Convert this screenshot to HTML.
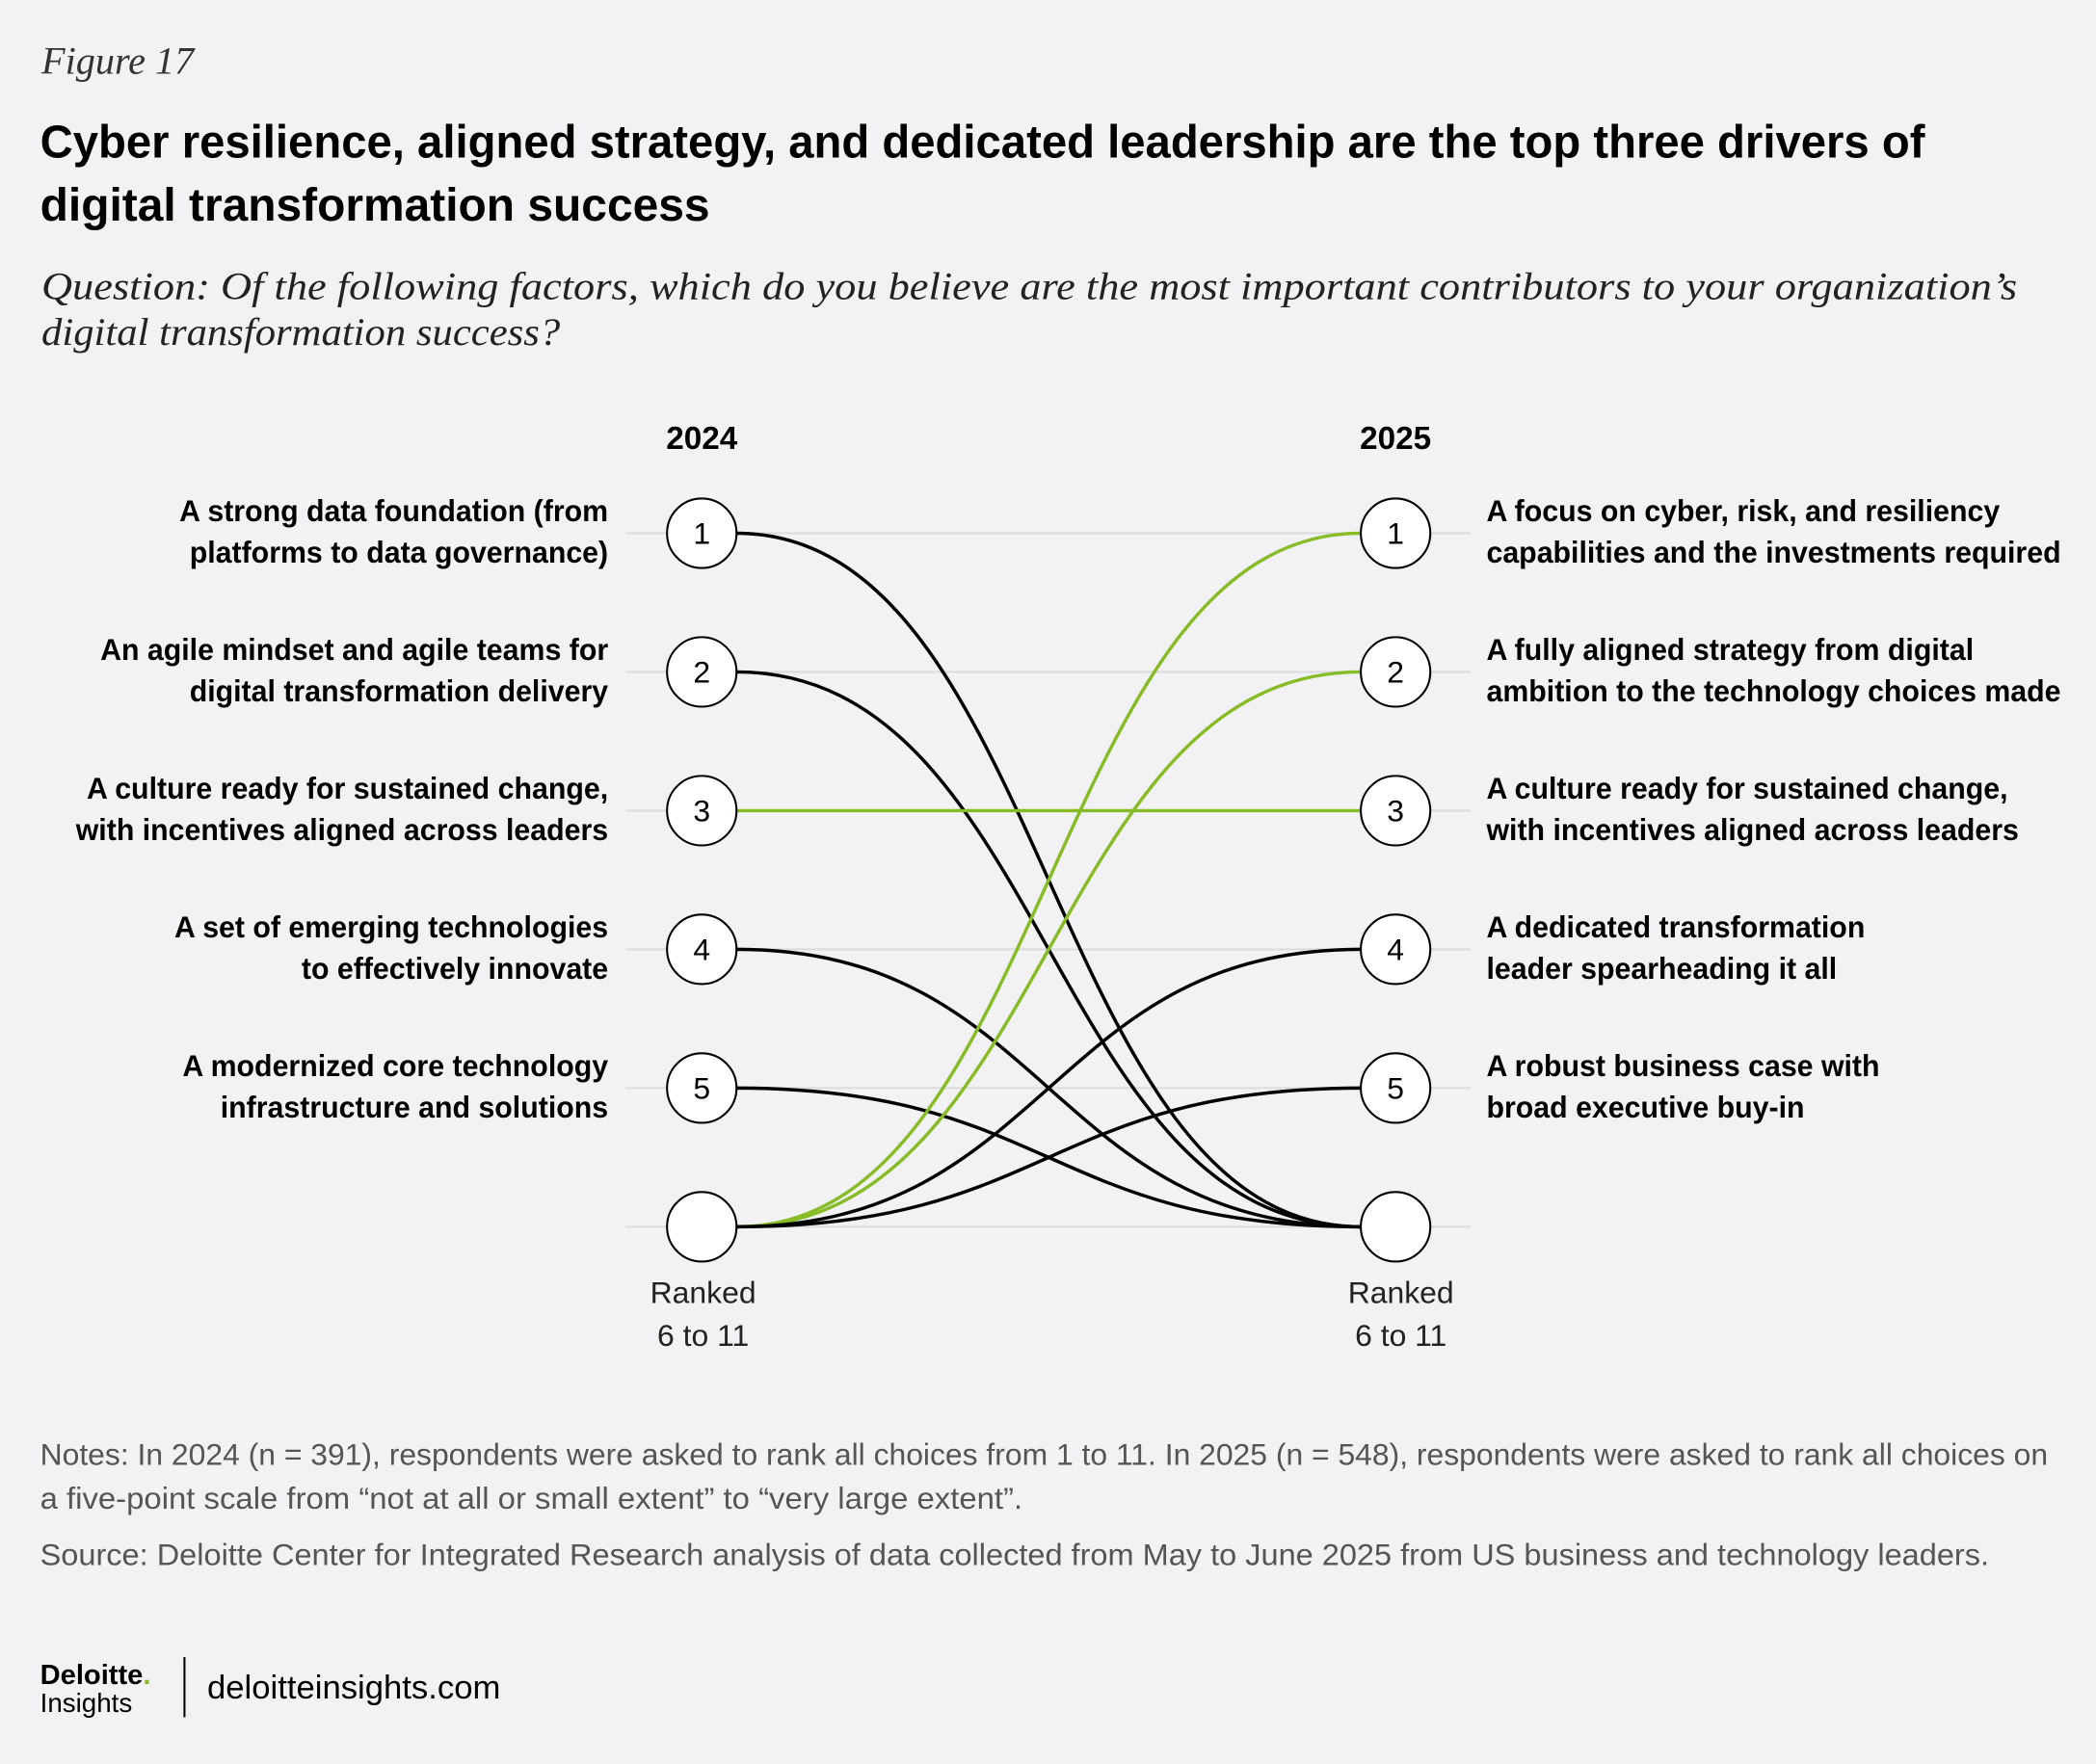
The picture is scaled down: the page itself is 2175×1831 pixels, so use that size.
<!DOCTYPE html>
<html><head><meta charset="utf-8"><style>
html,body{margin:0;padding:0;background:#f2f2f4;}
svg{display:block;}
.t{font-family:"Liberation Sans",sans-serif;}
.s{font-family:"Liberation Serif",serif;font-style:italic;}
</style></head><body>
<svg id="chart" width="2175" height="1831" viewBox="0 0 1568 1320" xmlns="http://www.w3.org/2000/svg">
<rect width="1568" height="1320" fill="#f2f2f4"/>
<text class="s" x="31" y="55" font-size="29" fill="#333">Figure 17</text>
<text class="t" x="30" y="118" font-size="35" font-weight="bold" fill="#000" textLength="1410" lengthAdjust="spacingAndGlyphs">Cyber resilience, aligned strategy, and dedicated leadership are the top three drivers of</text>
<text class="t" x="30" y="165" font-size="35" font-weight="bold" fill="#000" textLength="501" lengthAdjust="spacingAndGlyphs">digital transformation success</text>
<text class="s" x="31" y="224" font-size="29" fill="#222" textLength="1478" lengthAdjust="spacingAndGlyphs">Question: Of the following factors, which do you believe are the most important contributors to your organization’s</text>
<text class="s" x="31" y="258" font-size="29" fill="#222" textLength="388" lengthAdjust="spacingAndGlyphs">digital transformation success?</text>
<text class="t" x="525" y="336" font-size="24" font-weight="bold" text-anchor="middle">2024</text>
<text class="t" x="1044" y="336" font-size="24" font-weight="bold" text-anchor="middle">2025</text>
<g id="grid"></g><g id="lines"></g><g id="nodes"></g><g id="labels"></g>
<text class="t" x="526" y="975" font-size="23" text-anchor="middle" fill="#222"><tspan x="526">Ranked</tspan><tspan x="526" dy="32">6 to 11</tspan></text>
<text class="t" x="1048" y="975" font-size="23" text-anchor="middle" fill="#222"><tspan x="1048">Ranked</tspan><tspan x="1048" dy="32">6 to 11</tspan></text>
<text class="t" x="30" y="1096" font-size="23" fill="#555" textLength="1502" lengthAdjust="spacingAndGlyphs">Notes: In 2024 (n = 391), respondents were asked to rank all choices from 1 to 11. In 2025 (n = 548), respondents were asked to rank all choices on</text>
<text class="t" x="30" y="1129" font-size="23" fill="#555" textLength="735" lengthAdjust="spacingAndGlyphs">a five-point scale from “not at all or small extent” to “very large extent”.</text>
<text class="t" x="30" y="1171" font-size="23" fill="#555" textLength="1458" lengthAdjust="spacingAndGlyphs">Source: Deloitte Center for Integrated Research analysis of data collected from May to June 2025 from US business and technology leaders.</text>
<text class="t" x="30" y="1260" font-size="21" font-weight="bold" fill="#000">Deloitte<tspan fill="#86bc25">.</tspan></text>
<text class="t" x="30" y="1281" font-size="20" fill="#000">Insights</text>
<line x1="138" y1="1240" x2="138" y2="1285" stroke="#000" stroke-width="1.5"/>
<text class="t" x="155" y="1271" font-size="25" fill="#000">deloitteinsights.com</text>
</svg>
<script>
const rankSlots = [1, 2, 3, 4, 5, 6];
const slotLabels = ["1", "2", "3", "4", "5", ""];
const leftLabels = [["A strong data foundation (from","platforms to data governance)"],["An agile mindset and agile teams for","digital transformation delivery"],["A culture ready for sustained change,","with incentives aligned across leaders"],["A set of emerging technologies","to effectively innovate"],["A modernized core technology","infrastructure and solutions"]];
const rightLabels = [["A focus on cyber, risk, and resiliency","capabilities and the investments required"],["A fully aligned strategy from digital","ambition to the technology choices made"],["A culture ready for sustained change,","with incentives aligned across leaders"],["A dedicated transformation","leader spearheading it all"],["A robust business case with","broad executive buy-in"]];
const rank2024 = [1, 2, 3, 4, 5, 6, 6, 6, 6];
const rank2025 = [6, 6, 3, 6, 6, 1, 2, 4, 5];
const improved = [false, false, true, false, false, true, true, false, false];

const NS = "http://www.w3.org/2000/svg";
const xL = 525, xR = 1044, r = 26;
const yOf = k => 399 + (k - 1) * 103.8;
function mk(tag, attrs, parent){const e=document.createElementNS(NS,tag);for(const k in attrs)e.setAttribute(k,attrs[k]);parent.appendChild(e);return e;}
const grid=document.getElementById('grid'),lines=document.getElementById('lines'),nodes=document.getElementById('nodes'),labels=document.getElementById('labels');
rankSlots.forEach((k,i)=>{
  const g=mk('line',{x1:468,x2:1100,y1:yOf(k),y2:yOf(k),stroke:'#dcdcdf','stroke-width':1.5},grid);
  
  
});
rank2024.forEach((a,i)=>{
  const b=rank2025[i];
  const y1=yOf(a),y2=yOf(b),x1=xL+r,x2=xR-r,mx=(x1+x2)/2;
  const p=mk('path',{d:`M${x1},${y1} C${mx},${y1} ${mx},${y2} ${x2},${y2}`,fill:'none',stroke:improved[i]?'#86bc25':'#000','stroke-width':2.5},lines);
  
  
});
[xL,xR].forEach(x=>{
  rankSlots.forEach((k,i)=>{
    const c=mk('circle',{cx:x,cy:yOf(k),r:r,fill:'#fff',stroke:'#000','stroke-width':1.5},nodes);
    
    
    if(slotLabels[i]){
      const t=mk('text',{x:x,y:yOf(k)+8,'font-size':23,'text-anchor':'middle',class:'t'},nodes);
      t.textContent=slotLabels[i];
      
      
    }
  });
});
function lab(arr,x,anchor,name){
  arr.forEach((ls,i)=>{
    const y=yOf(i+1);
    ls.forEach((s,j)=>{
      const t=mk('text',{x:x,y:y-9+j*31,'font-size':23,'font-weight':'bold','text-anchor':anchor,class:'t',transform:`translate(${x},0) scale(0.95,1) translate(${-x},0)`},labels);
      t.textContent=s;
      
      
    });
  });
}
lab(leftLabels,455,'end','factor-label-2024');
lab(rightLabels,1112,'start','factor-label-2025');
</script>
</body></html>
